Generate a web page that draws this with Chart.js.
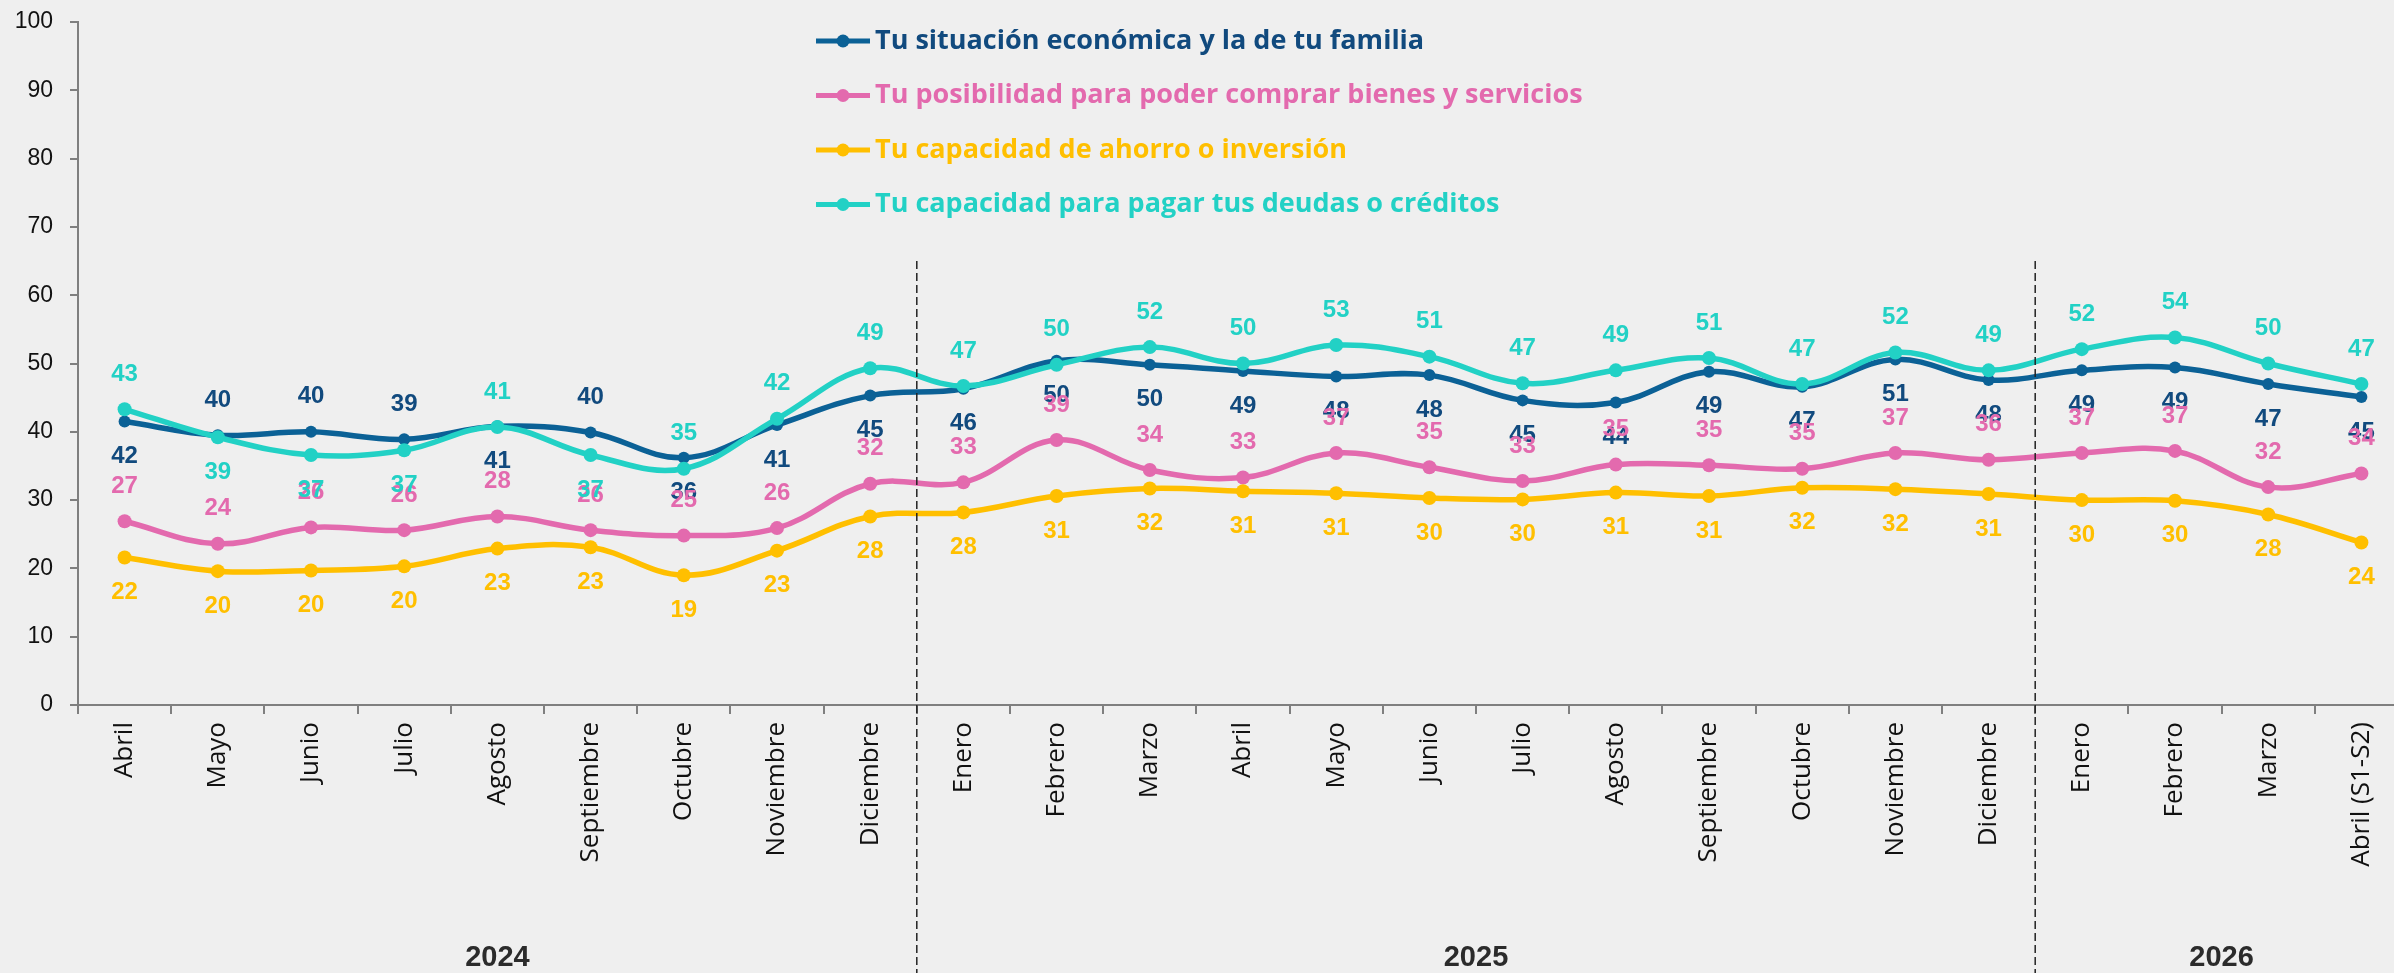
<!DOCTYPE html>
<html>
<head>
<meta charset="utf-8">
<script src="https://cdn.jsdelivr.net/npm/chart.js@4.4.1/dist/chart.umd.min.js"></script>
<style>
    html, body { margin: 0; padding: 0; background: #efefef; overflow: hidden; }
    #wrap { position: absolute; left: 0; top: 0; width: 2415px; height: 973px; }
</style>
</head>
<body>
<div id="wrap"><canvas id="percepcionChart"></canvas></div>
<script>
const months = ["Abril", "Mayo", "Junio", "Julio", "Agosto", "Septiembre", "Octubre", "Noviembre", "Diciembre",
    "Enero", "Febrero", "Marzo", "Abril", "Mayo", "Junio", "Julio", "Agosto", "Septiembre", "Octubre", "Noviembre", "Diciembre",
    "Enero", "Febrero", "Marzo", "Abril (S1-S2)"];
const years = ["2024", "2025", "2026"];
const monthsPerYear = [9, 12, 4];
const yTicks = [0, 10, 20, 30, 40, 50, 60, 70, 80, 90, 100];

const situacion = [41.5, 39.5, 40.0, 38.9, 40.8, 39.9, 36.2, 41.0, 45.3, 46.3, 50.4, 49.8, 48.9, 48.1, 48.3, 44.6, 44.3, 48.8, 46.6, 50.6, 47.6, 49.0, 49.4, 47.0, 45.1];
const comprar = [26.9, 23.6, 26.0, 25.6, 27.6, 25.6, 24.8, 25.9, 32.4, 32.6, 38.8, 34.4, 33.3, 36.9, 34.8, 32.8, 35.2, 35.1, 34.6, 36.9, 35.9, 36.9, 37.2, 31.9, 33.9];
const ahorro = [21.6, 19.6, 19.7, 20.3, 22.9, 23.1, 19.0, 22.6, 27.6, 28.2, 30.6, 31.7, 31.3, 31.0, 30.3, 30.1, 31.1, 30.6, 31.8, 31.6, 30.9, 30.0, 29.9, 27.9, 23.8];
const deudas = [43.3, 39.2, 36.6, 37.3, 40.7, 36.6, 34.6, 41.9, 49.3, 46.7, 49.8, 52.4, 50.0, 52.7, 51.0, 47.1, 49.0, 50.8, 47.0, 51.6, 49.0, 52.1, 53.8, 50.0, 47.0];

// categories where the blue and teal labels swap sides
const swapIdx = [1, 2, 3, 5];

const axisGray = "#7f7f7f";

function series(label, data, color, textColor, side, order, radius, swaps) {
    return {
        label: label,
        data: data,
        borderColor: color,
        backgroundColor: color,
        pointBackgroundColor: color,
        pointBorderWidth: 0,
        pointRadius: radius,
        pointHoverRadius: radius,
        borderWidth: 5.5,
        tension: 0.38,
        order: order,
        labelColor: textColor,
        labelSide: side,
        swaps: swaps,
    };
}

const bgPlugin = {
    id: "paper",
    beforeDraw(chart) {
        const c = chart.ctx;
        c.save();
        c.fillStyle = "#efefef";
        c.fillRect(0, 0, chart.width, chart.height);
        c.restore();
    },
};

const yearPlugin = {
    id: "years",
    afterDraw(chart) {
        const c = chart.ctx;
        const xs = chart.scales.x;
        const ys = chart.scales.y;
        const area = chart.chartArea;
        c.save();
        let start = 0;
        let left = area.left;
        monthsPerYear.forEach((n, k) => {
            const end = start + n;
            let right = area.right;
            if (end < months.length) {
                right = (xs.getPixelForValue(end - 1) + xs.getPixelForValue(end)) / 2;
                c.strokeStyle = "#222";
                c.lineWidth = 1.5;
                c.setLineDash([8, 4]);
                c.beginPath();
                c.moveTo(right, ys.getPixelForValue(65));
                c.lineTo(right, chart.height);
                c.stroke();
                c.setLineDash([]);
            }
            c.fillStyle = "#2b2b2b";
            c.font = "bold 29px 'Liberation Sans', Arial, sans-serif";
            c.textAlign = "center";
            c.textBaseline = "middle";
            c.fillText(years[k], (left + right) / 2, 958);
            left = right;
            start = end;
        });
        c.restore();
    },
};

const valuePlugin = {
    id: "values",
    afterDatasetsDraw(chart) {
        const c = chart.ctx;
        c.save();
        c.font = "bold 24px 'Liberation Sans', Arial, sans-serif";
        c.textAlign = "center";
        c.textBaseline = "middle";
        chart.data.datasets.forEach((ds, di) => {
            const meta = chart.getDatasetMeta(di);
            meta.data.forEach((pt, i) => {
                let side = ds.labelSide;
                if (ds.swaps && swapIdx.includes(i)) side = -side;
                c.fillStyle = ds.labelColor;
                c.fillText(String(Math.round(ds.data[i])), pt.x, pt.y + side * 35);
            });
        });
        c.restore();
    },
};

const legendPlugin = {
    id: "sideLegend",
    afterDraw(chart) {
        const c = chart.ctx;
        c.save();
        c.font = "bold 27px 'Open Sans', sans-serif";
        c.textBaseline = "middle";
        c.textAlign = "left";
        chart.data.datasets.forEach((ds, i) => {
            const y = 41 + i * 54.5;
            c.strokeStyle = ds.borderColor;
            c.lineWidth = 5;
            c.beginPath();
            c.moveTo(816, y);
            c.lineTo(870, y);
            c.stroke();
            c.fillStyle = ds.borderColor;
            c.beginPath();
            c.arc(843, y, 6.5, 0, Math.PI * 2);
            c.fill();
            c.fillStyle = ds.labelColor;
            c.fillText(ds.label, 875, y);
        });
        c.restore();
    },
};

const ctx = document.querySelector("#percepcionChart").getContext("2d");
const percepcionChart = new Chart(ctx, {
    type: "line",
    data: {
        labels: months,
        datasets: [
            series("Tu situación económica y la de tu familia", situacion, "#0b6196", "#114a7e", 1, 4, 6, true),
            series("Tu posibilidad para poder comprar bienes y servicios", comprar, "#e36aae", "#e36aae", -1, 3, 7, false),
            series("Tu capacidad de ahorro o inversión", ahorro, "#ffbf00", "#ffbf00", 1, 2, 7, false),
            series("Tu capacidad para pagar tus deudas o créditos", deudas, "#22d1c5", "#22d1c5", -1, 1, 7, true),
        ],
    },
    options: {
        responsive: true,
        maintainAspectRatio: false,
        animation: false,
        layout: {
            padding: { top: 22, right: 0, bottom: 0, left: 0 },
        },
        plugins: {
            legend: { display: false },
            tooltip: { enabled: false },
        },
        scales: {
            x: {
                offset: true,
                grid: {
                    display: true,
                    offset: true,
                    drawOnChartArea: false,
                    tickLength: 9,
                    color: axisGray,
                    lineWidth: 2,
                },
                border: { color: axisGray, width: 2 },
                ticks: {
                    autoSkip: false,
                    minRotation: 90,
                    maxRotation: 90,
                    padding: 8,
                    color: "#111",
                    font: { family: "'Open Sans', sans-serif", size: 26 },
                },
                afterFit(scale) {
                    scale.height = 268;
                },
            },
            y: {
                min: 0,
                max: 100,
                afterBuildTicks(scale) {
                    scale.ticks = yTicks.map(v => ({ value: v }));
                },
                grid: {
                    display: true,
                    drawOnChartArea: false,
                    tickLength: 8,
                    color: axisGray,
                    lineWidth: 2,
                },
                border: { color: axisGray, width: 2 },
                ticks: {
                    padding: 17,
                    color: "#111",
                    font: { family: "'Liberation Sans', Arial, sans-serif", size: 23 },
                },
                afterFit(scale) {
                    scale.width = 78;
                    scale.paddingTop = 0;
                },
            },
        },
    },
    plugins: [bgPlugin, yearPlugin, valuePlugin, legendPlugin],
});
</script>
</body>
</html>
